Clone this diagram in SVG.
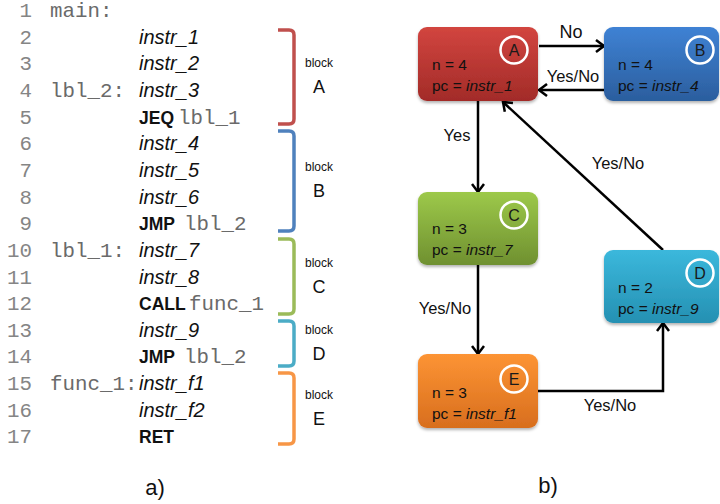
<svg xmlns="http://www.w3.org/2000/svg" width="720" height="504" viewBox="0 0 720 504">
<style>
.num{font-family:"Liberation Mono","Courier New",monospace;font-size:20.8px;fill:#858585;text-anchor:end}
.mono{font-family:"Liberation Mono","Courier New",monospace;font-size:20.8px;fill:#6a6a6a}
.ins{font-family:"Liberation Sans",Arial,sans-serif;font-size:20px;font-style:italic;fill:#111}
.kw{font-family:"Liberation Sans",Arial,sans-serif;font-size:17.5px;font-weight:bold;fill:#111}
.blk{font-family:"Liberation Sans",Arial,sans-serif;font-size:12px;fill:#111;text-anchor:middle}
.bl{font-family:"Liberation Sans",Arial,sans-serif;font-size:18px;fill:#111;text-anchor:middle}
.br{fill:none;stroke-width:3.5;stroke-linejoin:round}
.cap{font-family:"Liberation Sans",Arial,sans-serif;font-size:22px;fill:#111;text-anchor:middle}
.nt{font-family:"Liberation Sans",Arial,sans-serif;font-size:15.5px;fill:#111}
.it{font-style:italic}
.circ{fill:none;stroke:#fff;stroke-width:2.5}
.cl{font-family:"Liberation Sans",Arial,sans-serif;font-size:16px;fill:#1a1a1a;text-anchor:middle}
.edge{fill:none;stroke:#000;stroke-width:2.5}
.el{font-family:"Liberation Sans",Arial,sans-serif;font-size:16.5px;fill:#111;text-anchor:middle}
</style>
<defs>
<linearGradient id="gA" x1="0" y1="0" x2="0" y2="1"><stop offset="0" stop-color="#d2453f"/><stop offset="1" stop-color="#a22b28"/></linearGradient>
<linearGradient id="gB" x1="0" y1="0" x2="0" y2="1"><stop offset="0" stop-color="#3f82d4"/><stop offset="1" stop-color="#2b5e9e"/></linearGradient>
<linearGradient id="gC" x1="0" y1="0" x2="0" y2="1"><stop offset="0" stop-color="#9dc94a"/><stop offset="1" stop-color="#6f9030"/></linearGradient>
<linearGradient id="gD" x1="0" y1="0" x2="0" y2="1"><stop offset="0" stop-color="#3bb8dc"/><stop offset="1" stop-color="#2590b2"/></linearGradient>
<linearGradient id="gE" x1="0" y1="0" x2="0" y2="1"><stop offset="0" stop-color="#fd9434"/><stop offset="1" stop-color="#d86e1e"/></linearGradient>
<filter id="sh" x="-10%" y="-10%" width="130%" height="130%"><feDropShadow dx="0" dy="2" stdDeviation="1.5" flood-color="#000" flood-opacity="0.3"/></filter>
<marker id="arr" markerUnits="userSpaceOnUse" markerWidth="16" markerHeight="16" viewBox="0 0 16 16" refX="13" refY="8" orient="auto">
<path d="M5,2 L13,8 L5,14" fill="none" stroke="#000" stroke-width="2.5"/>
</marker>
</defs>

<g id="code">
<text class="num" x="32" y="17">1</text>
<text class="num" x="32" y="43.65">2</text>
<text class="num" x="32" y="70.3">3</text>
<text class="num" x="32" y="96.95">4</text>
<text class="num" x="32" y="123.6">5</text>
<text class="num" x="32" y="150.25">6</text>
<text class="num" x="32" y="176.9">7</text>
<text class="num" x="32" y="203.55">8</text>
<text class="num" x="32" y="230.2">9</text>
<text class="num" x="32" y="256.85">10</text>
<text class="num" x="32" y="283.5">11</text>
<text class="num" x="32" y="310.15">12</text>
<text class="num" x="32" y="336.8">13</text>
<text class="num" x="32" y="363.45">14</text>
<text class="num" x="32" y="390.1">15</text>
<text class="num" x="32" y="416.75">16</text>
<text class="num" x="32" y="443.4">17</text>

<text class="mono" x="50" y="17">main:</text>
<text class="mono" x="50" y="96.95">lbl_2:</text>
<text class="mono" x="50" y="256.85">lbl_1:</text>
<text class="mono" x="50" y="390.1">func_1:</text>

<text class="ins" x="139" y="43.65">instr_1</text>
<text class="ins" x="139" y="70.3">instr_2</text>
<text class="ins" x="139" y="96.95">instr_3</text>
<text class="kw" x="139" y="123.6">JEQ</text><text class="mono" x="178" y="123.6">lbl_1</text>
<text class="ins" x="139" y="150.25">instr_4</text>
<text class="ins" x="139" y="176.9">instr_5</text>
<text class="ins" x="139" y="203.55">instr_6</text>
<text class="kw" x="139" y="230.2">JMP</text><text class="mono" x="184" y="230.2">lbl_2</text>
<text class="ins" x="139" y="256.85">instr_7</text>
<text class="ins" x="139" y="283.5">instr_8</text>
<text class="kw" x="139" y="310.15">CALL</text><text class="mono" x="189" y="310.15">func_1</text>
<text class="ins" x="139" y="336.8">instr_9</text>
<text class="kw" x="139" y="363.45">JMP</text><text class="mono" x="184" y="363.45">lbl_2</text>
<text class="ins" x="139" y="390.1">instr_f1</text>
<text class="ins" x="139" y="416.75">instr_f2</text>
<text class="kw" x="139" y="443.4">RET</text>
</g>

<g id="brackets">
<path class="br" stroke="#c0504d" d="M278,30 H289 Q294,30 294,35 V119 Q294,124 289,124 H278"/>
<text class="blk" x="319" y="67">block</text><text class="bl" x="319" y="93">A</text>
<path class="br" stroke="#4f81bd" d="M278,131 H289 Q294,131 294,136 V226 Q294,231 289,231 H278"/>
<text class="blk" x="319" y="171">block</text><text class="bl" x="319" y="197">B</text>
<path class="br" stroke="#9bbb59" d="M278,239 H289 Q294,239 294,244 V309 Q294,314 289,314 H278"/>
<text class="blk" x="319" y="267">block</text><text class="bl" x="319" y="293">C</text>
<path class="br" stroke="#4bacc6" d="M278,321 H289 Q294,321 294,326 V361 Q294,366 289,366 H278"/>
<text class="blk" x="319" y="334">block</text><text class="bl" x="319" y="360">D</text>
<path class="br" stroke="#f79646" d="M278,373 H289 Q294,373 294,378 V439 Q294,444 289,444 H278"/>
<text class="blk" x="319" y="399">block</text><text class="bl" x="319" y="425">E</text>
</g>

<text class="cap" x="155" y="495">a)</text>
<text class="cap" x="548" y="493">b)</text>

<g id="connectors">
<line class="edge" x1="539" y1="46" x2="604" y2="46" marker-end="url(#arr)"/>
<text class="el" x="571" y="38" style="font-size:18px">No</text>
<line class="edge" x1="604" y1="90" x2="539" y2="90" marker-end="url(#arr)"/>
<text class="el" x="573" y="82">Yes/No</text>
<line class="edge" x1="478" y1="101" x2="478" y2="192" marker-end="url(#arr)"/>
<text class="el" x="457" y="141">Yes</text>
<line class="edge" x1="663" y1="250" x2="503" y2="102" marker-end="url(#arr)"/>
<text class="el" x="618" y="169">Yes/No</text>
<line class="edge" x1="478" y1="265" x2="478" y2="354" marker-end="url(#arr)"/>
<text class="el" x="445" y="314">Yes/No</text>
<polyline class="edge" points="538,391 663,391 663,323" marker-end="url(#arr)"/>
<text class="el" x="610" y="411">Yes/No</text>
</g>

<g id="nodeA">
<rect x="418" y="27" width="120" height="74" rx="9" fill="url(#gA)" filter="url(#sh)"/>
<circle class="circ" cx="514" cy="50" r="13.5"/><text class="cl" x="514" y="56">A</text>
<text class="nt" x="432" y="70">n = 4</text>
<text class="nt" x="432" y="91">pc = <tspan class="it">instr_1</tspan></text>
</g>
<g id="nodeB">
<rect x="604" y="27" width="115" height="74" rx="9" fill="url(#gB)" filter="url(#sh)"/>
<circle class="circ" cx="700" cy="50" r="13.5"/><text class="cl" x="700" y="56">B</text>
<text class="nt" x="618" y="70">n = 4</text>
<text class="nt" x="618" y="91">pc = <tspan class="it">instr_4</tspan></text>
</g>
<g id="nodeC">
<rect x="418" y="192" width="120" height="73" rx="9" fill="url(#gC)" filter="url(#sh)"/>
<circle class="circ" cx="514" cy="215" r="13.5"/><text class="cl" x="514" y="221">C</text>
<text class="nt" x="432" y="234">n = 3</text>
<text class="nt" x="432" y="255">pc = <tspan class="it">instr_7</tspan></text>
</g>
<g id="nodeD">
<rect x="604" y="250" width="115" height="73" rx="9" fill="url(#gD)" filter="url(#sh)"/>
<circle class="circ" cx="700" cy="273" r="13.5"/><text class="cl" x="700" y="279">D</text>
<text class="nt" x="618" y="293">n = 2</text>
<text class="nt" x="618" y="314">pc = <tspan class="it">instr_9</tspan></text>
</g>
<g id="nodeE">
<rect x="418" y="354" width="120" height="74" rx="9" fill="url(#gE)" filter="url(#sh)"/>
<circle class="circ" cx="514" cy="379" r="13.5"/><text class="cl" x="514" y="385">E</text>
<text class="nt" x="432" y="398">n = 3</text>
<text class="nt" x="432" y="419">pc = <tspan class="it">instr_f1</tspan></text>
</g>
</svg>
